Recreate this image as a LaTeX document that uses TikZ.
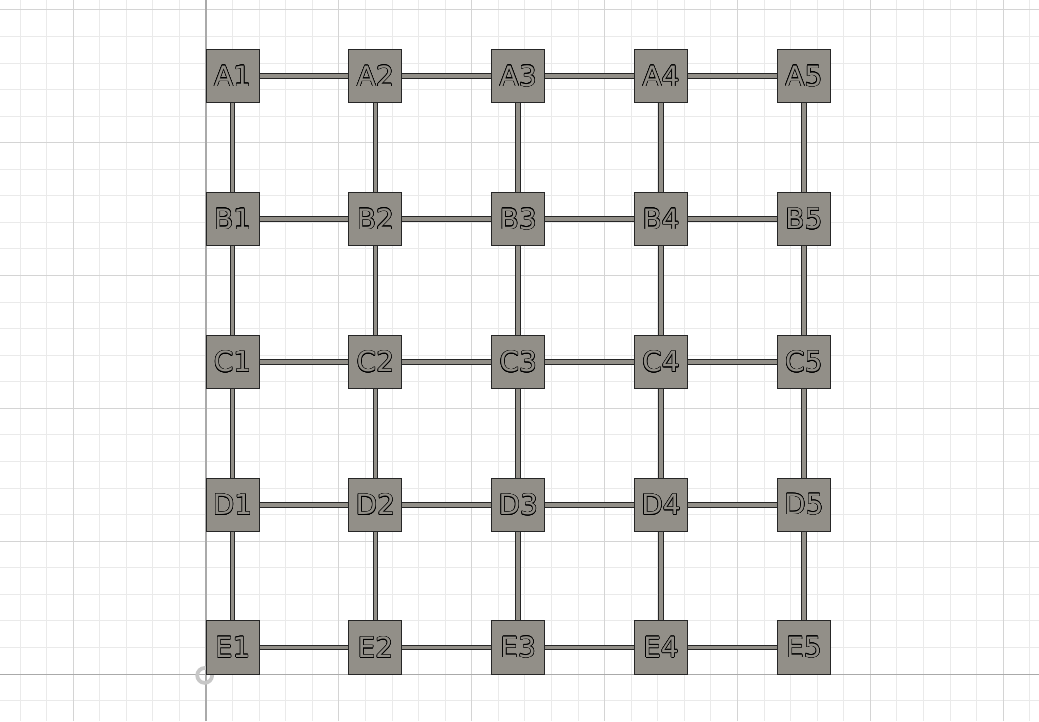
\documentclass[tikz,border=0pt]{standalone}
\usepackage{fontspec}
\setmainfont{DejaVu Sans}
\usepackage{contour}
\contourlength{0.28pt}

\definecolor{sqgray}{RGB}{146,143,136}
\definecolor{minorline}{RGB}{234,234,234}
\definecolor{majorline}{RGB}{212,212,212}
\definecolor{axisline}{RGB}{170,170,170}

\tikzset{
  cell/.style={draw=black!85, line width=0.5pt, fill=sqgray, minimum size=1cm,
    inner sep=0pt, font=\fontsize{15}{15}\selectfont},
  bar/.style={draw=black!85, line width=0.5pt, double=sqgray, double distance=2pt},
}
\newcommand{\celltext}[1]{\contour{black}{\textcolor{sqgray}{#1}}}

\begin{document}
\begin{tikzpicture}[x=0.5cm, y=0.5cm]

  %%%%%%%%%%%%%%%%%%%%%%%%%%%%%%%%%%%%%%%%%%%%%%%%%
  % Background grid
  \fill[white] (-7.753,-1.769) rectangle (31.35,25.37);
  \useasboundingbox (-7.753,-1.769) rectangle (31.35,25.37);
  \draw[minorline, line width=0.5pt, step=1] (-7.753,-1.769) grid (31.35,25.37);
  \draw[majorline, line width=0.6pt, step=5] (-7.753,-1.769) grid (31.35,25.37);

  % Axes
  \draw[axisline, line width=0.6pt] (-7.753,0) -- (31.35,0);
  \draw[axisline, line width=0.6pt] (0,-1.769) -- (0,25.37);

  % Origin marker
  \draw[black!22, line width=2pt] (-0.05,-0.05) circle (0.28);

  %%%%%%%%%%%%%%%%%%%%%%%%%%%%%%%%%%%%%%%%%%%%%%%%%
  % Row A
  \node[cell] (A1) at (1, 22.5) {\celltext{A1}};
  \node[cell] (A2) at (6.375, 22.5) {\celltext{A2}};
  \node[cell] (A3) at (11.75, 22.5) {\celltext{A3}};
  \node[cell] (A4) at (17.125, 22.5) {\celltext{A4}};
  \node[cell] (A5) at (22.5, 22.5) {\celltext{A5}};

  % Row B
  \node[cell] (B1) at (1, 17.125) {\celltext{B1}};
  \node[cell] (B2) at (6.375, 17.125) {\celltext{B2}};
  \node[cell] (B3) at (11.75, 17.125) {\celltext{B3}};
  \node[cell] (B4) at (17.125, 17.125) {\celltext{B4}};
  \node[cell] (B5) at (22.5, 17.125) {\celltext{B5}};

  % Row C
  \node[cell] (C1) at (1, 11.75) {\celltext{C1}};
  \node[cell] (C2) at (6.375, 11.75) {\celltext{C2}};
  \node[cell] (C3) at (11.75, 11.75) {\celltext{C3}};
  \node[cell] (C4) at (17.125, 11.75) {\celltext{C4}};
  \node[cell] (C5) at (22.5, 11.75) {\celltext{C5}};

  % Row D
  \node[cell] (D1) at (1, 6.375) {\celltext{D1}};
  \node[cell] (D2) at (6.375, 6.375) {\celltext{D2}};
  \node[cell] (D3) at (11.75, 6.375) {\celltext{D3}};
  \node[cell] (D4) at (17.125, 6.375) {\celltext{D4}};
  \node[cell] (D5) at (22.5, 6.375) {\celltext{D5}};

  % Row E
  \node[cell] (E1) at (1, 1) {\celltext{E1}};
  \node[cell] (E2) at (6.375, 1) {\celltext{E2}};
  \node[cell] (E3) at (11.75, 1) {\celltext{E3}};
  \node[cell] (E4) at (17.125, 1) {\celltext{E4}};
  \node[cell] (E5) at (22.5, 1) {\celltext{E5}};

  %%%%%%%%%%%%%%%%%%%%%%%%%%%%%%%%%%%%%%%%%%%%%%%%%
  % Horizontal bars
  \draw[bar] (A1) -- (A2) (A2) -- (A3) (A3) -- (A4) (A4) -- (A5);
  \draw[bar] (B1) -- (B2) (B2) -- (B3) (B3) -- (B4) (B4) -- (B5);
  \draw[bar] (C1) -- (C2) (C2) -- (C3) (C3) -- (C4) (C4) -- (C5);
  \draw[bar] (D1) -- (D2) (D2) -- (D3) (D3) -- (D4) (D4) -- (D5);
  \draw[bar] (E1) -- (E2) (E2) -- (E3) (E3) -- (E4) (E4) -- (E5);

  % Vertical bars
  \draw[bar] (A1) -- (B1) (B1) -- (C1) (C1) -- (D1) (D1) -- (E1);
  \draw[bar] (A2) -- (B2) (B2) -- (C2) (C2) -- (D2) (D2) -- (E2);
  \draw[bar] (A3) -- (B3) (B3) -- (C3) (C3) -- (D3) (D3) -- (E3);
  \draw[bar] (A4) -- (B4) (B4) -- (C4) (C4) -- (D4) (D4) -- (E4);
  \draw[bar] (A5) -- (B5) (B5) -- (C5) (C5) -- (D5) (D5) -- (E5);

\end{tikzpicture}
\end{document}
